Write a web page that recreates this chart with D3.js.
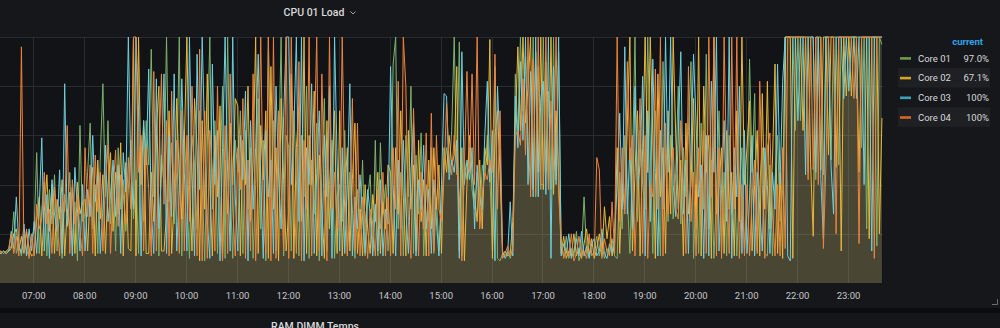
<!DOCTYPE html>
<html>
<head>
<meta charset="utf-8">
<script src="https://cdn.jsdelivr.net/npm/d3@7"></script>
<style>
  html, body { margin: 0; padding: 0; background: #0b0c0e; }
  svg { display: block; font-family: Roboto, "Noto Sans", sans-serif; }
</style>
</head>
<body>
<div id="chart"></div>
<script>
// series meta
const seriesNames = ['Core 01', 'Core 02', 'Core 03', 'Core 04']
const seriesColors = ['#7eb26d', '#eab839', '#6ed0e0', '#ef843c']
const legendColors = ['#6d9a4c', '#d6a526', '#3aa2b8', '#d8661f']

// samples every 3 minutes, first one at 06:19
const startTime = new Date(2020, 0, 1, 6, 19)
const stepMinutes = 3
const tickHours = [7, 23]

// CPU load in %, one row per hour (06 row starts at 06:19, 23 row ends at 23:40)
const core01 = [
  12,13,12,13,13,15,29,12,16,11,20,13,11,18,
  22,53,12,30,41,11,38,24,44,13,31,10,36,27,45,13,33,9,64,25,
  28,45,65,22,40,12,52,81,35,66,24,47,13,55,30,42,21,38,58,26,
  42,12,58,25,66,48,95,35,60,11,52,40,100,33,57,24,45,100,11,62,
  35,10,60,48,22,70,40,9,55,100,30,66,12,45,80,10,100,38,10,58,
  45,70,12,62,30,55,10,40,75,22,58,9,100,35,66,13,48,100,11,60,
  55,13,70,42,11,60,35,80,10,50,28,65,9,45,75,13,40,58,10,35,
  40,25,62,12,45,30,10,38,22,50,11,35,44,13,58,11,57,28,40,13,
  30,89,100,22,45,11,60,35,80,12,52,28,61,11,40,25,55,12,35,13,
  30,48,55,45,62,100,44,98,11,50,42,55,38,30,45,25,48,42,60,44,
  13,88,10,9,12,11,13,10,15,85,60,100,70,92,55,40,100,35,88,38,
  100,45,78,38,100,42,94,14,11,19,10,14,11,21,9,13,35,12,18,11,
  13,19,11,16,10,14,12,18,11,10,45,22,60,35,12,48,100,25,62,40,
  30,100,55,12,70,40,11,90,50,25,60,26,45,80,24,55,35,62,90,10,
  40,12,65,30,93,22,50,10,35,70,13,45,11,60,28,48,11,38,55,13,
  30,91,45,77,13,40,55,12,11,48,11,42,60,25,38,100,100,100,100,62,
  100,66,100,100,45,100,100,42,100,100,44,100,100,50,100,100,48,100,100,100,
  100,100,100,100,100,55,100,22,100,100,100,15,100,97
]
const core02 = [
  13,12,13,12,13,14,20,22,13,19,12,21,14,11,
  12,26,35,11,29,44,21,40,12,34,26,42,11,30,22,39,12,41,28,33,
  34,13,38,47,11,50,26,44,12,39,53,21,45,28,57,11,49,14,13,99,
  11,100,40,66,12,12,45,25,62,80,13,13,28,70,12,34,75,42,26,58,
  100,40,13,75,55,9,66,30,85,42,11,60,35,72,10,50,28,65,40,75,
  72,11,58,40,80,25,50,100,12,64,42,70,10,88,30,55,9,75,42,13,
  30,85,10,55,72,25,100,12,60,40,78,11,52,30,10,66,22,48,70,12,
  70,11,35,55,13,42,65,12,30,11,40,22,12,36,25,45,12,33,22,48,
  45,12,55,28,70,35,11,62,30,48,13,58,25,42,11,50,22,55,30,48,
  12,55,45,60,48,52,88,13,55,9,40,60,45,35,25,50,22,55,48,99,
  10,60,70,45,11,13,11,12,25,65,96,62,100,65,80,100,38,94,45,100,
  38,90,40,100,36,70,45,12,19,10,13,11,20,11,14,10,16,22,11,18,
  10,14,20,11,31,18,27,11,16,55,12,40,30,65,100,13,45,70,11,55,
  100,45,100,60,10,85,35,55,12,70,28,100,60,30,50,11,65,28,40,75,
  22,100,11,80,45,60,10,100,28,40,55,12,62,30,45,11,70,25,100,40,
  55,74,13,40,62,11,77,30,82,22,50,89,12,45,10,100,100,100,10,100,
  100,100,62,100,100,48,19,100,100,46,100,100,52,100,100,47,100,13,100,76,
  100,76,100,100,45,100,100,100,18,100,100,100,20,67.1
]
const core03 = [
  12,12,13,12,13,21,14,35,15,12,24,11,22,13,
  25,12,31,59,13,36,10,42,28,21,46,12,81,23,37,11,47,30,13,40,
  13,38,27,60,33,44,12,30,56,25,36,50,27,48,12,53,37,100,45,30,
  100,70,11,66,48,87,30,12,83,22,45,85,12,60,27,85,13,38,83,45,
  13,100,45,11,93,38,100,58,26,10,89,40,62,9,55,100,45,13,100,35,
  13,60,42,78,9,66,30,55,93,40,10,62,35,50,12,80,45,22,68,100,
  100,40,62,100,25,100,9,55,40,81,12,45,70,11,60,35,80,10,100,50,
  13,55,12,40,81,11,35,22,44,26,12,38,28,11,32,13,42,11,30,24,
  88,40,11,50,22,58,30,12,45,65,11,42,30,56,22,38,12,42,25,11,
  40,77,76,42,50,45,58,10,94,40,50,42,55,22,48,35,30,60,82,41,
  62,9,80,55,13,10,12,33,11,76,55,90,58,100,40,86,35,100,35,75,
  82,36,100,10,88,40,100,11,16,12,20,10,13,18,11,21,11,15,10,16,
  18,11,13,22,12,10,16,12,20,40,69,30,96,28,55,22,80,38,48,84,
  11,70,25,91,45,11,62,30,100,45,100,40,27,60,94,28,50,12,55,93,
  65,35,48,10,60,11,82,45,100,13,38,66,25,100,10,55,35,80,12,62,
  12,35,60,11,45,30,13,55,40,12,45,30,89,40,82,100,11,9,100,100,
  66,100,100,44,100,100,100,45,100,42,18,100,100,48,28,100,100,100,75,100,
  78,100,100,75,100,100,40,100,100,13,100,100,100,100
]
const core04 = [
  13,13,12,13,14,20,12,19,11,96,13,22,10,20,
  11,32,22,26,45,24,30,12,39,25,11,35,29,64,12,42,24,36,21,11,
  55,27,48,12,52,29,45,13,41,56,12,38,54,23,44,36,24,51,30,100,
  100,45,60,13,55,38,11,86,13,50,85,32,66,11,78,30,58,12,70,13,
  60,25,80,38,11,95,9,70,10,62,45,13,80,33,9,64,12,85,30,11,
  55,38,75,10,50,13,85,9,45,100,30,12,100,9,100,10,70,40,13,100,
  10,100,38,12,90,9,58,30,100,11,55,100,13,85,38,9,100,30,45,22,
  22,100,40,11,30,75,13,65,11,35,28,10,30,24,11,38,22,45,11,35,
  11,55,30,82,11,100,80,25,10,71,38,11,45,22,61,11,69,13,60,30,
  25,44,73,50,44,60,48,35,9,48,86,45,85,40,100,22,35,45,42,50,
  45,93,30,70,10,12,15,11,13,60,62,56,83,52,100,35,91,36,100,40,
  40,100,38,74,45,100,36,18,10,14,11,20,9,12,19,11,13,10,20,12,
  11,51,46,10,18,13,11,33,12,100,25,55,28,90,50,60,11,42,75,12,
  60,10,40,35,87,30,100,11,65,28,45,55,30,26,66,40,12,88,25,45,
  11,55,30,62,12,100,35,100,11,55,10,100,45,12,100,30,100,10,40,11,
  40,11,35,50,12,82,40,10,55,61,28,11,40,11,55,14,100,100,100,100,
  100,100,100,100,42,100,46,100,40,100,14,48,100,100,100,20,100,100,100,100,
  100,100,75,100,16,100,100,100,100,100,10,100,100,100
]

const seriesValues = [core01, core02, core03, core04]
seriesValues.forEach((s, i) => {
  if (s.length !== core01.length) throw new Error(seriesNames[i] + ' has ' + s.length + ' points, expected ' + core01.length)
})

const times = core01.map((d, i) => d3.timeMinute.offset(startTime, i * stepMinutes))

// layout
const width = 1000
const height = 328
const plot = { left: 0, right: 883, top: 37, bottom: 283 }

const svg = d3.select('#chart').append('svg')
  .attr('width', width)
  .attr('height', height)

// panels
svg.append('rect').attr('x', 0).attr('y', 0).attr('width', width).attr('height', 308).attr('fill', '#16171b')
svg.append('rect').attr('x', 0).attr('y', 313).attr('width', width).attr('height', 20).attr('fill', '#15161a')
svg.append('rect').attr('x', plot.left).attr('y', plot.top).attr('width', plot.right - plot.left)
  .attr('height', plot.bottom - plot.top).attr('fill', '#111317')

// title
svg.append('text')
  .attr('x', 314).attr('y', 16)
  .attr('text-anchor', 'middle')
  .attr('fill', '#d8d9da')
  .style('font-size', '10.5px')
  .style('font-weight', 500)
  .text('CPU 01 Load')
svg.append('path')
  .attr('d', 'M350.5,11.5 L353,14 L355.5,11.5')
  .attr('fill', 'none').attr('stroke', '#9fa0a3').attr('stroke-width', 1)

// scales
const x = d3.scaleTime()
  .domain([new Date(2020, 0, 1, tickHours[0]), new Date(2020, 0, 1, tickHours[1])])
  .range([33.3, 848])
const y = d3.scaleLinear().domain([0, 100]).range([plot.bottom, plot.top])

// grid
const hourTicks = x.ticks(d3.timeHour.every(1))
svg.append('g').selectAll('line')
  .data(y.ticks(5).filter(d => d > 0))
  .join('line')
  .attr('x1', plot.left).attr('x2', plot.right)
  .attr('y1', d => Math.round(y(d)) + 0.5).attr('y2', d => Math.round(y(d)) + 0.5)
  .attr('stroke', '#2a2c30')
svg.append('g').selectAll('line')
  .data(hourTicks)
  .join('line')
  .attr('x1', d => Math.round(x(d)) + 0.5).attr('x2', d => Math.round(x(d)) + 0.5)
  .attr('y1', plot.top).attr('y2', plot.bottom)
  .attr('stroke', '#2a2c30')

// data
svg.append('clipPath').attr('id', 'plot-clip')
  .append('rect')
  .attr('x', plot.left).attr('y', plot.top - 1)
  .attr('width', plot.right - plot.left).attr('height', plot.bottom - plot.top + 1)

const dataG = svg.append('g').attr('clip-path', 'url(#plot-clip)')

const area = d3.area()
  .x((d, i) => x(times[i]))
  .y0(y(0))
  .y1(d => y(d))
const line = d3.line()
  .x((d, i) => x(times[i]))
  .y(d => y(d))

dataG.selectAll('.fill')
  .data(seriesValues)
  .join('path')
  .attr('class', 'fill')
  .attr('d', area)
  .attr('fill', (d, i) => seriesColors[i])
  .attr('fill-opacity', 0.1)

dataG.selectAll('.series')
  .data(seriesValues)
  .join('path')
  .attr('class', 'series')
  .attr('d', line)
  .attr('fill', 'none')
  .attr('stroke', (d, i) => seriesColors[i])
  .attr('stroke-width', 1)
  .attr('stroke-linejoin', 'round')

// x axis
const xAxis = svg.append('g')
  .attr('transform', `translate(0,${plot.bottom})`)
  .call(d3.axisBottom(x)
    .ticks(d3.timeHour.every(1))
    .tickFormat(d3.timeFormat('%H:%M'))
    .tickSize(0)
    .tickPadding(9))
xAxis.select('.domain').remove()
xAxis.selectAll('text')
  .attr('fill', '#c7c8ca')
  .style('font-size', '9.5px')
  .style('font-family', 'Roboto, "Noto Sans", sans-serif')

// legend
const legend = svg.append('g')
legend.append('text')
  .attr('x', 983).attr('y', 44.5)
  .attr('text-anchor', 'end')
  .attr('fill', '#33a2e5')
  .style('font-size', '9.5px')
  .style('font-weight', 700)
  .text('current')

const rows = legend.selectAll('.row')
  .data(seriesNames)
  .join('g')
  .attr('class', 'row')
  .attr('transform', (d, i) => `translate(0,${58.3 + i * 19.7})`)

rows.filter((d, i) => i % 2 === 1)
  .append('rect')
  .attr('x', 898).attr('y', -10).attr('width', 92).attr('height', 19.5)
  .attr('fill', '#1e2024')
rows.append('rect')
  .attr('x', 900).attr('y', -1.2).attr('width', 11).attr('height', 2.6)
  .attr('fill', (d, i) => legendColors[i])
rows.append('text')
  .attr('x', 918).attr('y', 3.4)
  .attr('fill', '#d8d9da')
  .style('font-size', '9.5px')
  .text(d => d)
rows.append('text')
  .attr('x', 989).attr('y', 3.4)
  .attr('text-anchor', 'end')
  .attr('fill', '#d8d9da')
  .style('font-size', '9.5px')
  .text((d, i) => {
    const v = seriesValues[i][seriesValues[i].length - 1]
    return v >= 100 ? '100%' : v.toFixed(1) + '%'
  })

// panel resize handle
svg.append('path')
  .attr('d', 'M997.5,299 L997.5,304.5 L992,304.5')
  .attr('fill', 'none').attr('stroke', '#6b6d71').attr('stroke-width', 1)

// next panel title, cut by the window as in the screenshot
svg.append('text')
  .attr('x', 315).attr('y', 329.5)
  .attr('text-anchor', 'middle')
  .attr('fill', '#d8d9da')
  .style('font-size', '10.5px')
  .style('font-weight', 500)
  .text('RAM DIMM Temps')
</script>
</body>
</html>
